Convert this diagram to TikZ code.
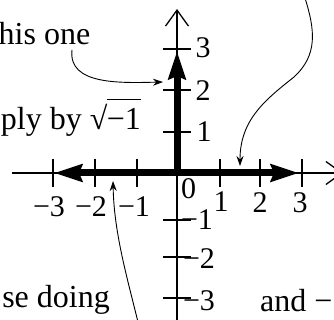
\documentclass[tikz,border=0pt]{standalone}
\usepackage{fontspec}
\setmainfont{Liberation Serif}
\usetikzlibrary{arrows.meta}
\newcommand\myroot[1]{\setbox0\hbox{#1}√\kern-0.02em\rlap{\rule[0.93em]{\wd0}{0.045em}}\box0}
\tikzset{
  axis/.style={line width=1.3pt, -{Straight Barb[length=16pt,width=23pt,line width=1.3pt]}},
  tickmark/.style={line width=1.1pt},
  bigarrow/.style={line width=7pt},
  bigtip/.tip={Stealth[length=28pt,width=17pt,inset=3pt]},
  pointer/.style={line width=0.9pt, -{Stealth[length=10pt,width=7pt]}},
  lab/.style={inner sep=0pt, font=\fontsize{30}{36}\selectfont},
  prose/.style={inner sep=0pt, font=\fontsize{32}{38}\selectfont}
}
\begin{document}
\begin{tikzpicture}[x=1pt,y=-1pt]
\useasboundingbox (0,0) rectangle (334,320);
\clip (0,0) rectangle (334,320);
% axes
\coordinate (xl) at (12,173);
\coordinate (xr) at (343,173);
\coordinate (yb) at (177,330);
\coordinate (yt) at (177,9);
\draw[axis] (xl) -- (xr);
\draw[axis] (yb) -- (yt);
% ticks
\foreach \x/\n in {53/a,95/b,137/c,220/d,260/e,302/f}{
  \coordinate (tx\n u) at (\x,159); \coordinate (tx\n d) at (\x,187);
  \draw[tickmark] (tx\n u) -- (tx\n d);}
\foreach \y/\n in {49/a,90/b,132/c,220/d,257/e,298/f}{
  \coordinate (ty\n l) at (163,\y); \coordinate (ty\n r) at (191,\y);
  \draw[tickmark] (ty\n l) -- (ty\n r);}
% thick arrows
\coordinate (o) at (177,173);
\coordinate (up) at (177,51);
\coordinate (le) at (54,173);
\coordinate (ri) at (299,173);
\draw[bigarrow, -bigtip] (o) -- (up);
\draw[bigarrow, bigtip-bigtip] (le) -- (ri);
% tick labels
\node[lab] (l3) at (203,48) {3};
\node[lab] (l2) at (203,91) {2};
\node[lab] (l1) at (204,132) {1};
\node[lab] (l0) at (188.5,189) {0};
\node[lab] (lm1) at (197,220) {−1};
\node[lab] (lm2) at (199,259) {−2};
\node[lab] (lm3) at (199,301) {−3};
\node[lab] (hm3) at (49,207) {−3};
\node[lab] (hm2) at (91,207) {−2};
\node[lab] (hm1) at (134,207) {−1};
\node[lab] (h1) at (221,202) {1};
\node[lab] (h2) at (260,203) {2};
\node[lab] (h3) at (300,203) {3};
% prose fragments
\node[prose, anchor=base west] (t1) at (-1.5,45) {his one};
\node[prose, anchor=base east] (t2) at (141,130) {ply by \myroot{−1}};
\node[prose, anchor=base east] (t3) at (110,307) {se doing};
\node[prose, anchor=base west] (t4) at (260,311) {and −};
% pointers
\coordinate (p1s) at (72,50);
\coordinate (p1e) at (163,82);
\draw[pointer] (p1s) .. controls (68,85) and (120,83) .. (p1e);
\coordinate (p2s) at (305,-2);
\coordinate (p2m) at (294,77);
\coordinate (p2e) at (240,166);
\draw[pointer] (p2s) .. controls (315,30) and (318,55) .. (p2m) .. controls (265,100) and (240,120) .. (p2e);
\coordinate (p3s) at (138,322);
\coordinate (p3e) at (113,181);
\draw[pointer] (p3s) .. controls (125,270) and (114,230) .. (p3e);
\end{tikzpicture}
\end{document}
